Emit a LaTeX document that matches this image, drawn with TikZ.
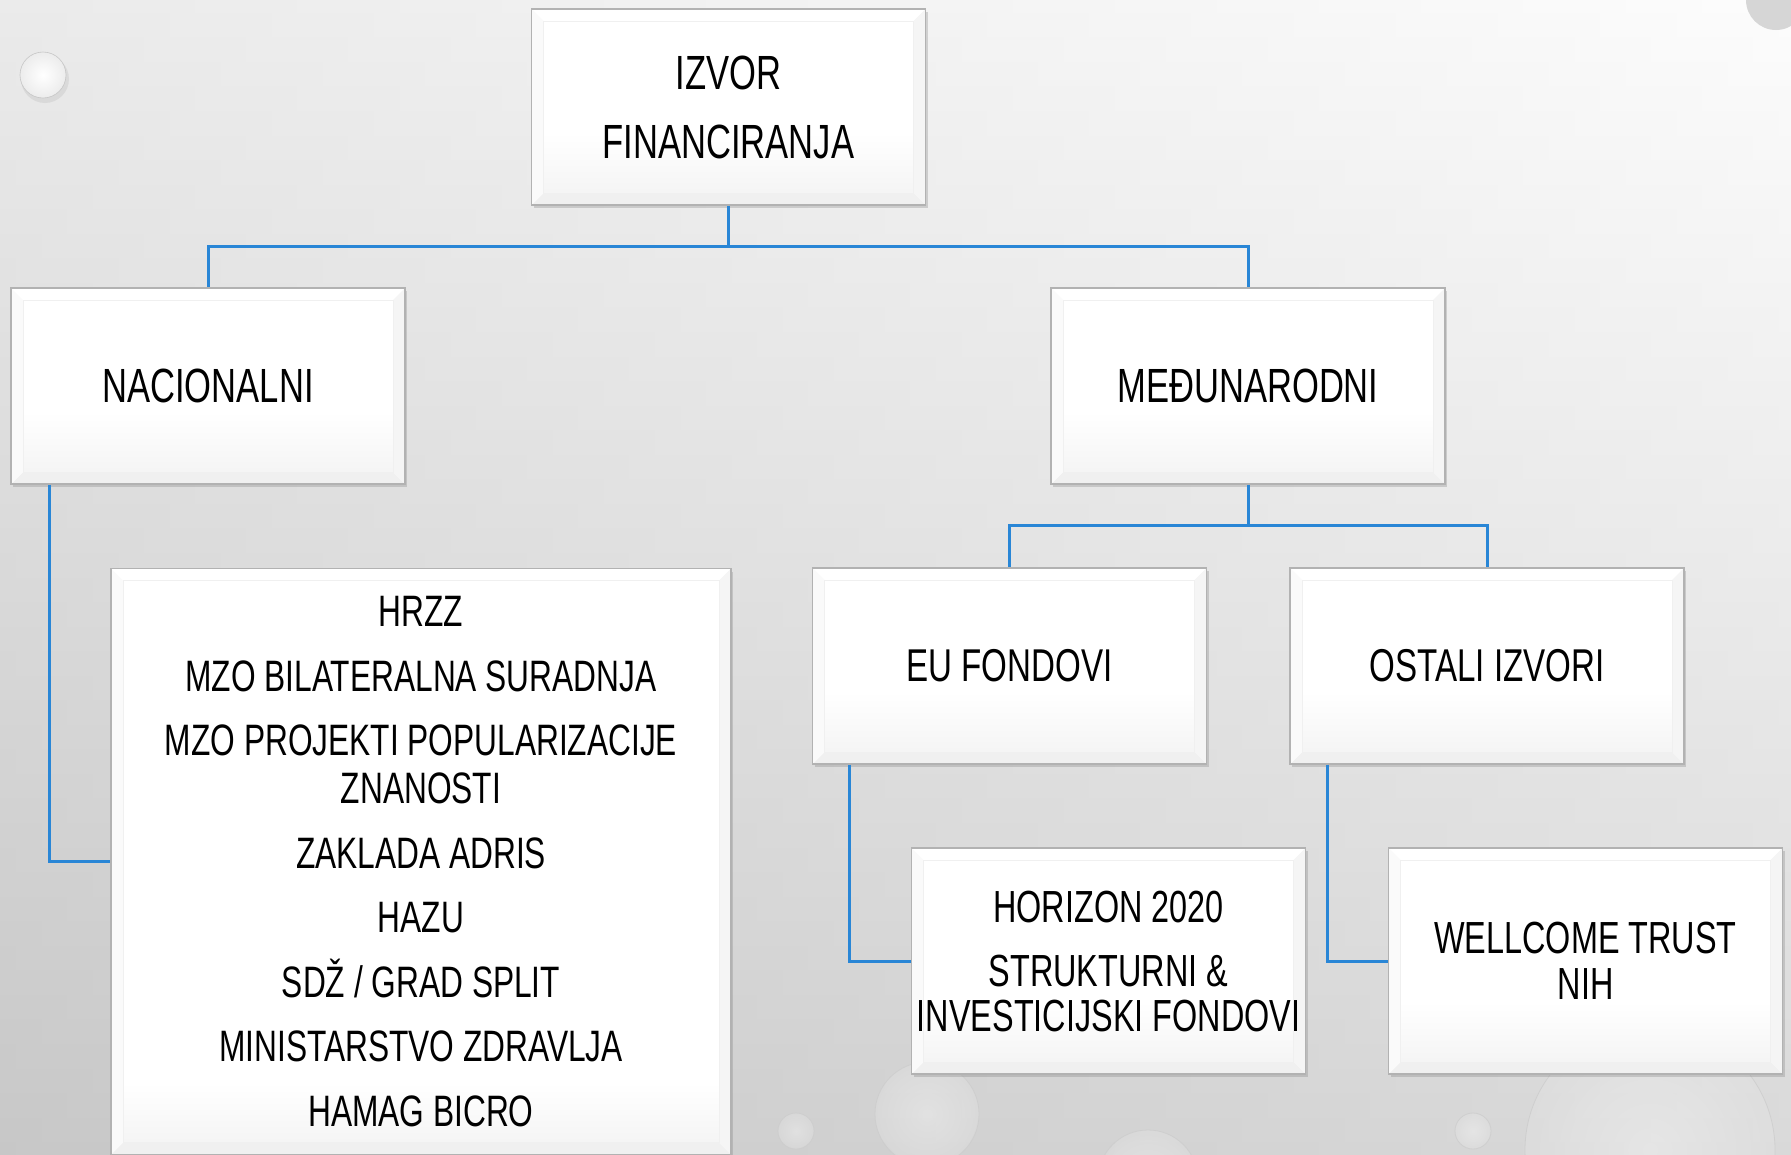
\documentclass[tikz,border=0pt]{standalone}
\usepackage{fontspec}
\setmainfont{Liberation Sans}[FakeStretch=0.72]
\usetikzlibrary{shadows,calc}
\definecolor{linkblue}{RGB}{41,134,214}
\definecolor{bgtop}{RGB}{252,252,252}
\definecolor{bgbot}{RGB}{205,205,205}
\begin{document}
\begin{tikzpicture}[x=1pt,y=-1pt,
  bevel/.style={path picture={
    \coordinate (ponw) at (path picture bounding box.north west);
    \coordinate (pone) at (path picture bounding box.north east);
    \coordinate (posw) at (path picture bounding box.south west);
    \coordinate (pose) at (path picture bounding box.south east);
    \coordinate (pinw) at ([xshift=12pt,yshift=-12pt]ponw);
    \coordinate (pine) at ([xshift=-12pt,yshift=-12pt]pone);
    \coordinate (pisw) at ([xshift=12pt,yshift=12pt]posw);
    \coordinate (pise) at ([xshift=-12pt,yshift=12pt]pose);
    \shade[top color=white, bottom color=gray!8] ([yshift=60pt]pisw) rectangle (pise);
    \fill[gray!12] (posw) -- (pose) -- (pise) -- (pisw) -- cycle;
    \fill[gray!8] (pose) -- (pone) -- (pine) -- (pise) -- cycle;
    \fill[gray!4] (posw) -- (ponw) -- (pinw) -- (pisw) -- cycle;
    \draw[gray!12, line width=0.5pt] (pinw) rectangle (pise);
  }},
  box/.style={draw=gray!60, line width=1.2pt, fill=white, minimum width=394pt,
    minimum height=196pt, inner sep=0pt, align=center, bevel,
    drop shadow={shadow xshift=2pt, shadow yshift=-3pt, opacity=0.3},
    font=\fontsize{46}{46}\selectfont},
  link/.style={draw=linkblue, line width=3pt},
  bubble/.style={draw=gray!40, line width=0.8pt, inner color=white, outer color=gray!20, fill opacity=0.35, draw opacity=0.8},
]
\useasboundingbox (0,0) rectangle (1791,1154);
\shade[top color=bgtop, bottom color=bgbot] (0,0) rectangle (1791,1154);
\shade[left color=gray!55, right color=white, opacity=0.25] (0,0) rectangle (1791,1154);

% decorative bubbles
\fill[gray!40, opacity=0.5] (45,79) circle (24);
\shade[draw=gray!45, line width=0.6pt, inner color=white, outer color=gray!15] (43,75) circle (23);
\shade[bubble] (796,1131) circle (18);
\shade[bubble] (927,1114) circle (52);
\shade[bubble] (1148,1180) circle (50);
\shade[bubble] (1473,1131) circle (18);
\shade[bubble] (1650,1150) circle (125);
\fill[gray!60, opacity=0.5] (1776,0) circle (30);

% boxes
\node[box, font=\fontsize{48}{69}\selectfont] (src) at (728.5,107) {IZVOR\\FINANCIRANJA};
\node[box, font=\fontsize{48}{58}\selectfont] (nac) at (208,386) {NACIONALNI};
\node[box, font=\fontsize{48}{58}\selectfont] (med) at (1248,386) {MEĐUNARODNI};
\node[box, minimum width=620pt, minimum height=586pt, anchor=north] (natlist) at (421,568) {};
\node[anchor=north, inner sep=0pt, align=center, font=\fontsize{44}{48}\selectfont] (natlisttext) at (421,596.5)
  {HRZZ\\[16.5pt]MZO BILATERALNA SURADNJA\\[16.5pt]MZO PROJEKTI POPULARIZACIJE\\ZNANOSTI\\[16.5pt]ZAKLADA ADRIS\\[16.5pt]HAZU\\[16.5pt]SDŽ / GRAD SPLIT\\[16.5pt]MINISTARSTVO ZDRAVLJA\\[16.5pt]HAMAG BICRO};
\node[box] (eu) at (1009.5,666) {EU FONDOVI};
\node[box] (ost) at (1487,666) {OSTALI IZVORI};
\node[box, minimum height=226pt, font=\fontsize{45}{45}\selectfont] (hor) at (1108.5,961)
  {HORIZON 2020\\[19pt]STRUKTURNI \&\\INVESTICIJSKI FONDOVI};
\node[box, minimum height=226pt, font=\fontsize{45}{46}\selectfont] (wel) at (1585.5,961)
  {WELLCOME TRUST\\NIH};

% connectors
\coordinate (j1) at (728.5,246);
\coordinate (j2) at (1248,525);
\draw[link] (src.south) -- (j1) -| (nac.north);
\draw[link] (j1) -| (med.north);
\draw[link] (med.south) -- (j2) -| (eu.north);
\draw[link] (j2) -| (ost.north);
\draw[link] ([xshift=39pt]nac.south west) |- (natlist.west);
\draw[link] ([xshift=38pt]eu.south west) |- (hor.west);
\draw[link] ([xshift=38pt]ost.south west) |- (wel.west);
\end{tikzpicture}
\end{document}
